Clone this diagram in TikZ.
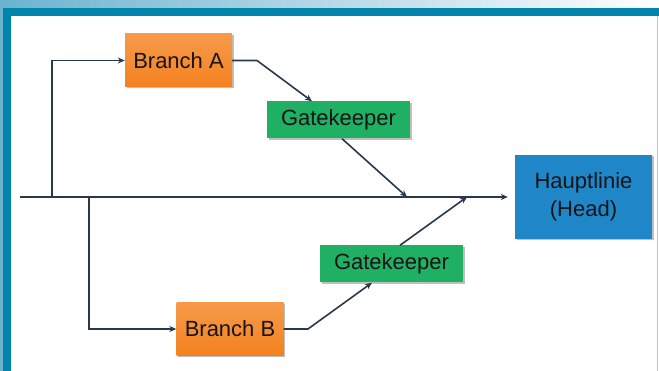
\documentclass[tikz,border=0pt]{standalone}
\usepackage{fontspec}
\setmainfont{Liberation Sans}
\usetikzlibrary{arrows.meta,shadows}
\definecolor{frameteal}{HTML}{0285AC}
\definecolor{bandblue}{HTML}{6CB3CF}
\definecolor{boxorange}{HTML}{F4811F}
\definecolor{boxorangelt}{HTML}{F69A4A}
\definecolor{boxgreen}{HTML}{1FB063}
\definecolor{boxblue}{HTML}{1F86C8}
\definecolor{wire}{HTML}{27394A}
\definecolor{ink}{HTML}{151515}
\tikzset{
  box/.style={draw=none, inner sep=0pt, align=center, text=ink,
    font=\fontsize{22}{28}\selectfont,
    drop shadow={shadow xshift=1.5pt, shadow yshift=-1.5pt, opacity=0.25, fill=black}},
  branchbox/.style={box, top color=boxorangelt, bottom color=boxorange,
    minimum width=107pt, minimum height=53pt},
  gatebox/.style={box, fill=boxgreen, minimum width=143pt, minimum height=37pt},
  headbox/.style={box, fill=boxblue, minimum width=137pt, minimum height=84pt},
  wireline/.style={draw=wire, line width=1.6pt},
  flow/.style={wireline, -{Stealth[length=7pt,width=6pt]}},
}
\begin{document}
\begin{tikzpicture}[x=1pt,y=-1pt]
  % frame and heading band
  \useasboundingbox (0,0) rectangle (659,371);
  \fill[white] (0,0) rectangle (659,371);
  \shade[left color=bandblue, right color=white] (0,0) rectangle (659,8);
  \fill[bandblue] (0,8) rectangle (3,371);
  \fill[frameteal] (3,8) rectangle (659,16);
  \fill[frameteal] (3,16) rectangle (11,371);
  \draw[bandblue!60, line width=1pt] (657.5,16) -- (657.5,371);

  % boxes
  \node[branchbox] (brA) at (178.5,60.5) {Branch A};
  \node[gatebox] (gkA) at (338.5,120) {Gatekeeper};
  \node[headbox] (head) at (583.5,197) {Hauptlinie\\(Head)};
  \node[branchbox] (brB) at (230,329) {Branch B};
  \node[gatebox] (gkB) at (391.5,264) {Gatekeeper};

  % junctions on the main line
  \coordinate (start) at (20,197);
  \coordinate (jA) at (52,197);
  \coordinate (jB) at (89,197);
  \coordinate (mA) at (407,197);
  \coordinate (mB) at (467,197);
  \coordinate (bendA) at (257,60.5);
  \coordinate (bendB) at (308,329);

  % main line
  \draw[flow, shorten >=7pt] (start) -- (head.west);

  % upper branch
  \draw[flow] (jA) |- (brA.west);
  \draw[flow] (brA.east) -- (bendA) -- (gkA.north -| 312,0);
  \draw[flow] (gkA.south -| 342,0) -- (mA);

  % lower branch
  \draw[flow] (jB) |- (brB.west);
  \draw[flow] (brB.east) -- (bendB) -- (gkB.south -| 372,0);
  \draw[flow] (gkB.north -| 400,0) -- (mB);
\end{tikzpicture}
\end{document}
